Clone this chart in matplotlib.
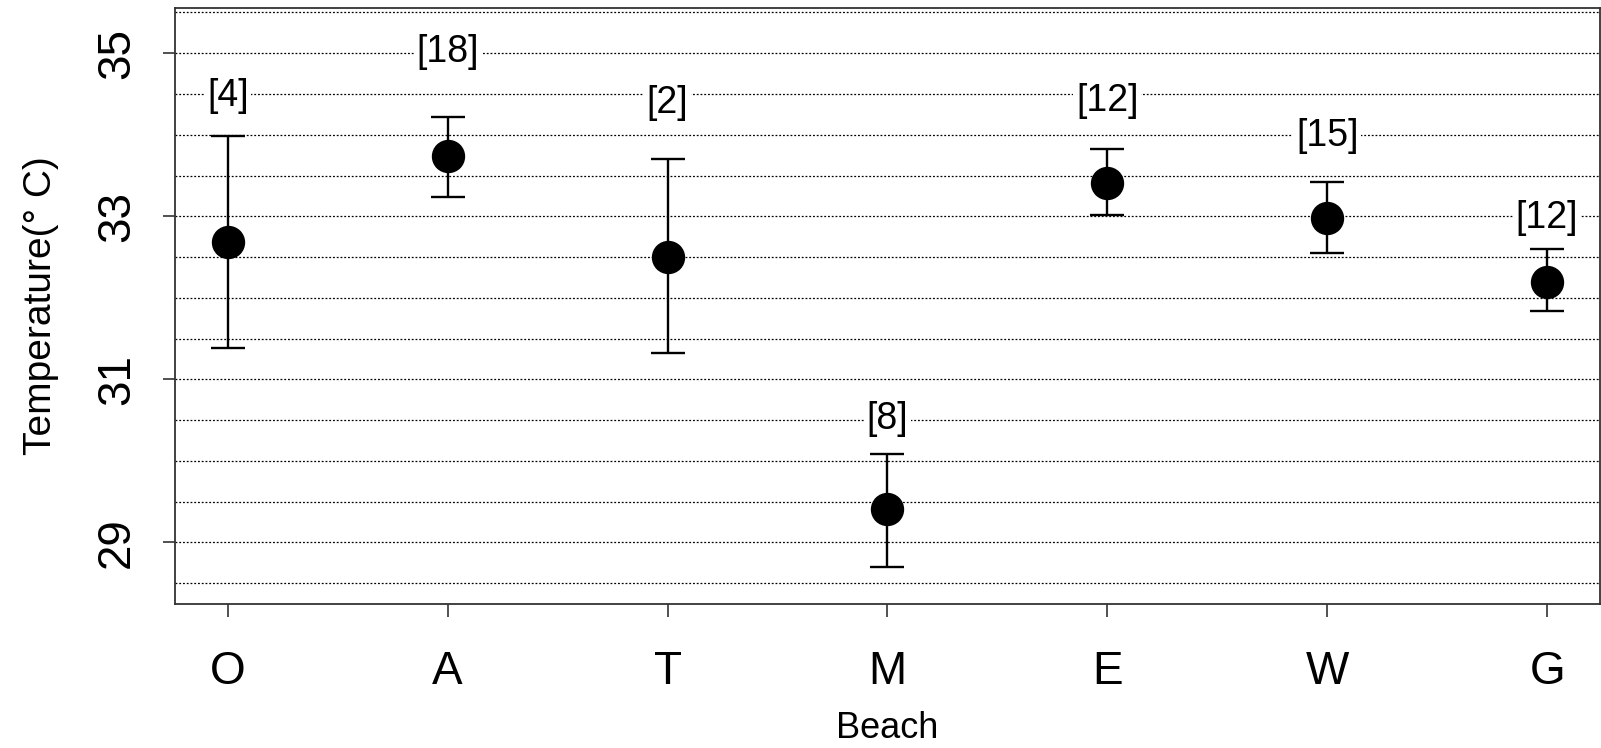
import numpy as np
import matplotlib
matplotlib.use("Agg")
import matplotlib.pyplot as plt

plt.rcParams['font.family'] = ['Liberation Sans', 'DejaVu Sans']

# Mean water temperature per beach with error bar limits and sample sizes
beaches = ['O', 'A', 'T', 'M', 'E', 'W', 'G']
mean_temp = [32.69, 33.74, 32.50, 29.41, 33.41, 32.98, 32.20]
upper = [33.98, 34.22, 33.70, 30.09, 33.82, 33.42, 32.60]
lower = [31.39, 33.24, 31.32, 28.70, 33.02, 32.55, 31.84]
n_obs = [4, 18, 2, 8, 12, 15, 12]
label_y = [34.47, 35.02, 34.39, 30.51, 34.41, 33.98, 32.98]

x = np.arange(1, len(beaches) + 1)
mean_arr = np.array(mean_temp)
yerr = [mean_arr - np.array(lower), np.array(upper) - mean_arr]

fig = plt.figure(figsize=(16.01, 7.48), dpi=100)
ax = fig.add_axes([0.1093, 0.1925, 0.8900, 0.7968])

# dotted horizontal guide lines every half degree
for g in np.arange(28.5, 35.51, 0.5):
    ax.axhline(g, color='black', lw=0.9, linestyle=(0, (1.5, 1.5)), zorder=0)

ax.errorbar(x, mean_temp, yerr=yerr, fmt='o', color='black', ms=23,
            elinewidth=1.7, capsize=12, capthick=1.7, zorder=3)

for xi, yi, n in zip(x, label_y, n_obs):
    ax.text(xi, yi, f'[{n}]', ha='center', va='center', fontsize=27,
            bbox=dict(facecolor='white', edgecolor='none', pad=2), zorder=2)

ax.set_xlim(0.76, 7.24)
ax.set_ylim(28.245, 35.555)
ax.set_xticks(x)
ax.set_xticklabels(beaches, fontsize=33)
ax.set_yticks([29, 31, 33, 35])
ax.set_yticklabels(['29', '31', '33', '35'], fontsize=33, rotation=90,
                   va='center')
ax.tick_params(axis='both', direction='out', length=9, width=1.2,
               color='#333333')
ax.tick_params(axis='x', pad=24)
ax.tick_params(axis='y', pad=17)

for side in ax.spines.values():
    side.set_linewidth(1.3)
    side.set_color('#333333')

ax.set_xlabel('Beach', fontsize=26, labelpad=12)
ax.set_ylabel('Temperature(° C)', fontsize=28, labelpad=26)

fig.savefig('out.png', dpi=100)
